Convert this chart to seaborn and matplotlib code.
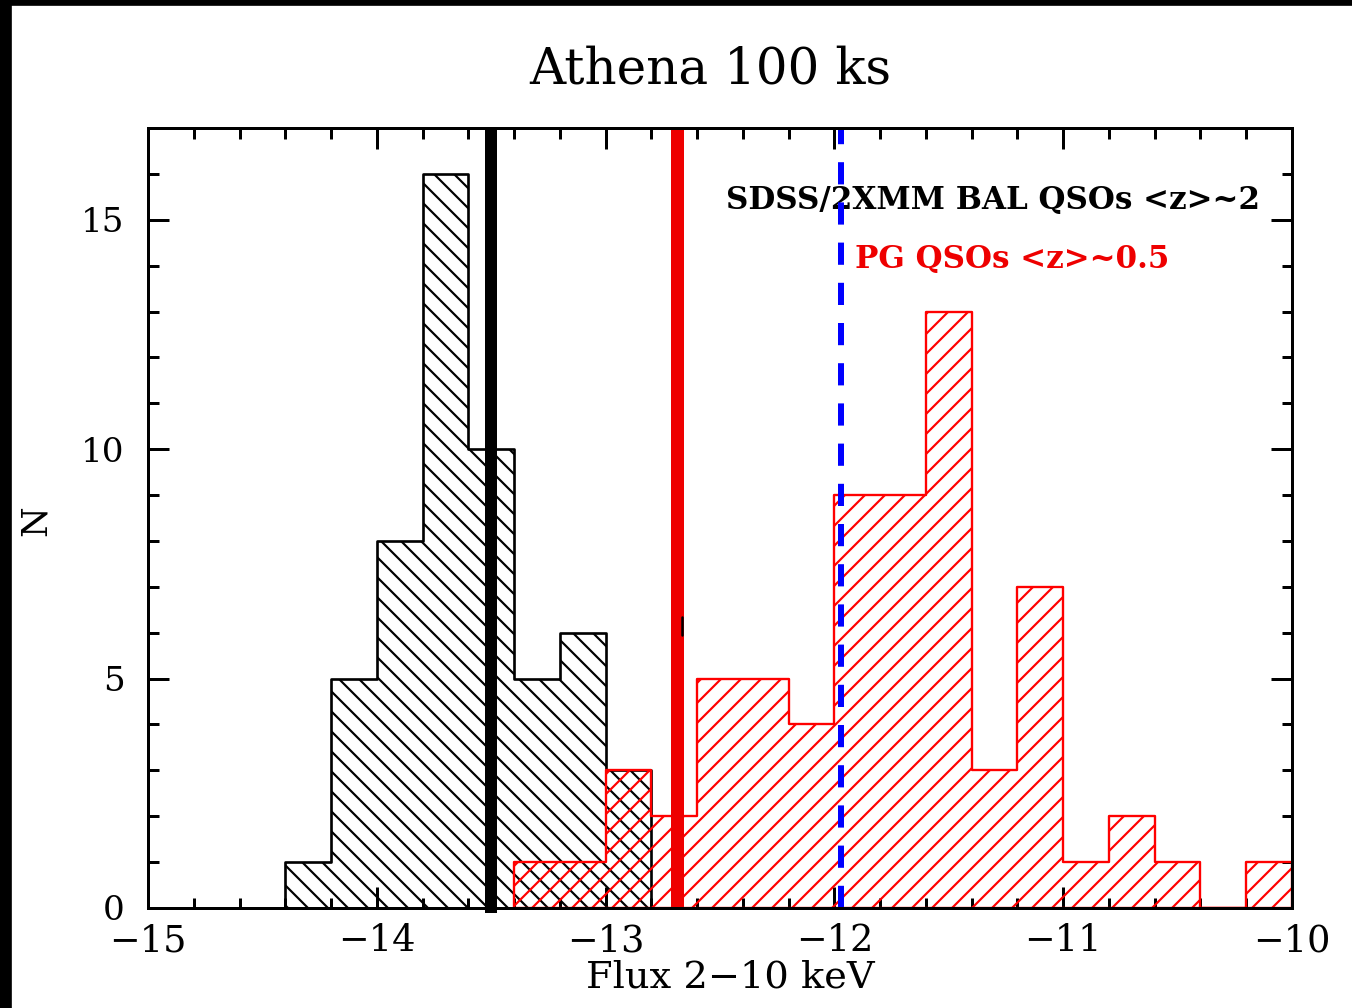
import numpy as np
import pandas as pd
import matplotlib.pyplot as plt
import seaborn as sns
from matplotlib.ticker import MultipleLocator
from matplotlib.patches import Rectangle

# Histogram data (bin left edges, width 0.2, and counts)
bin_width = 0.2
bal_left = [-14.4, -14.2, -14.0, -13.8, -13.6, -13.4, -13.2, -13.0]
bal_counts = [1, 5, 8, 16, 10, 5, 6, 3]
pg_left = [-13.4, -13.2, -13.0, -12.8, -12.6, -12.4, -12.2, -12.0, -11.8,
           -11.6, -11.4, -11.2, -11.0, -10.8, -10.6, -10.4, -10.2]
pg_counts = [1, 1, 3, 2, 5, 5, 4, 9, 9, 13, 3, 7, 1, 2, 1, 0, 1]

# Vertical reference lines
bal_mean = -13.50
pg_mean = -12.69
flux_limit = -11.97

bal = pd.DataFrame({'flux': np.array(bal_left) + bin_width / 2, 'n': bal_counts})
pg = pd.DataFrame({'flux': np.array(pg_left) + bin_width / 2, 'n': pg_counts})
bal_edges = bal_left + [round(bal_left[-1] + bin_width, 1)]
pg_edges = pg_left + [round(pg_left[-1] + bin_width, 1)]

sns.set_theme(style='ticks', rc={'axes.edgecolor': 'black', 'xtick.color': 'black',
                                 'ytick.color': 'black', 'axes.linewidth': 1.8,
                                 'text.color': 'black', 'axes.labelcolor': 'black',
                                 'hatch.linewidth': 1.3})
plt.rcParams['font.family'] = ['DejaVu Serif']

dpi = 120
fig = plt.figure(figsize=(1352 / dpi, 1008 / dpi), dpi=dpi)
fig.patch.set_facecolor('white')
ax = fig.add_axes([148 / 1352, 1 - 908 / 1008, 1144 / 1352, 780 / 1008])

# doubled hatch characters -> about 20 px line spacing at this dpi
plt.rcParams['hatch.color'] = 'black'
sns.histplot(data=bal, x='flux', weights='n', bins=bal_edges, element='step', fill=True,
             color='black', facecolor='none', edgecolor='black', hatch='\\\\',
             linewidth=1.6, ax=ax)
plt.rcParams['hatch.color'] = 'red'
sns.histplot(data=pg, x='flux', weights='n', bins=pg_edges, element='step', fill=True,
             color='red', facecolor='none', edgecolor='red', hatch='//',
             linewidth=1.4, ax=ax)

ax.axvline(bal_mean, ymin=-0.006, ymax=1, color='black', lw=7.2, clip_on=False,
           solid_capstyle='butt', zorder=4)
ax.axvline(pg_mean, color='#ee0000', lw=7.8, solid_capstyle='butt', zorder=4)
ax.axvline(flux_limit, color='#0000ff', lw=3.6, dashes=(3.7, 3), zorder=4)
ax.plot([-12.666, -12.666], [5.94, 6.35], color='black', lw=1.5, zorder=5)

ax.text(-12.474, 15.24, 'SDSS/2XMM BAL QSOs <z>~2', fontweight='bold', fontsize=18.6,
        color='black', va='baseline', zorder=3)
ax.text(-11.91, 13.95, 'PG QSOs <z>~0.5', fontweight='bold', fontsize=18.6,
        color='#ee0000', va='baseline', zorder=3)

ax.set_xlim(-15, -10)
ax.set_ylim(0, 17)
ax.xaxis.set_major_locator(MultipleLocator(1))
ax.xaxis.set_minor_locator(MultipleLocator(0.2))
ax.yaxis.set_major_locator(MultipleLocator(5))
ax.yaxis.set_minor_locator(MultipleLocator(1))
ax.tick_params(which='both', direction='in', top=True, right=True, width=1.8)
ax.tick_params(which='major', length=12.6, labelsize=20.5)
ax.tick_params(axis='x', which='major', labelsize=22, pad=9)
ax.tick_params(which='minor', length=6.3)
ax.tick_params(axis='y', pad=14)
for s in ax.spines.values():
    s.set_linewidth(1.8)
    s.set_zorder(6)

ax.set_xlabel('Flux 2\u221210 keV', fontsize=23)
ax.xaxis.set_label_coords(0.509, -0.066)
ax.set_ylabel('N', fontsize=21)
ax.yaxis.set_label_coords(-0.083, 0.497)

fig.text(710 / 1352, 1 - 83 / 1008, 'Athena 100 ks', ha='center', va='baseline', fontsize=30)

# black frame strips along the left and top edge of the image
fig.add_artist(Rectangle((0, 0), 11 / 1352, 1, transform=fig.transFigure, color='black'))
fig.add_artist(Rectangle((0, 1 - 5 / 1008), 1, 5 / 1008, transform=fig.transFigure, color='black'))

fig.savefig('out.png', dpi=dpi)
